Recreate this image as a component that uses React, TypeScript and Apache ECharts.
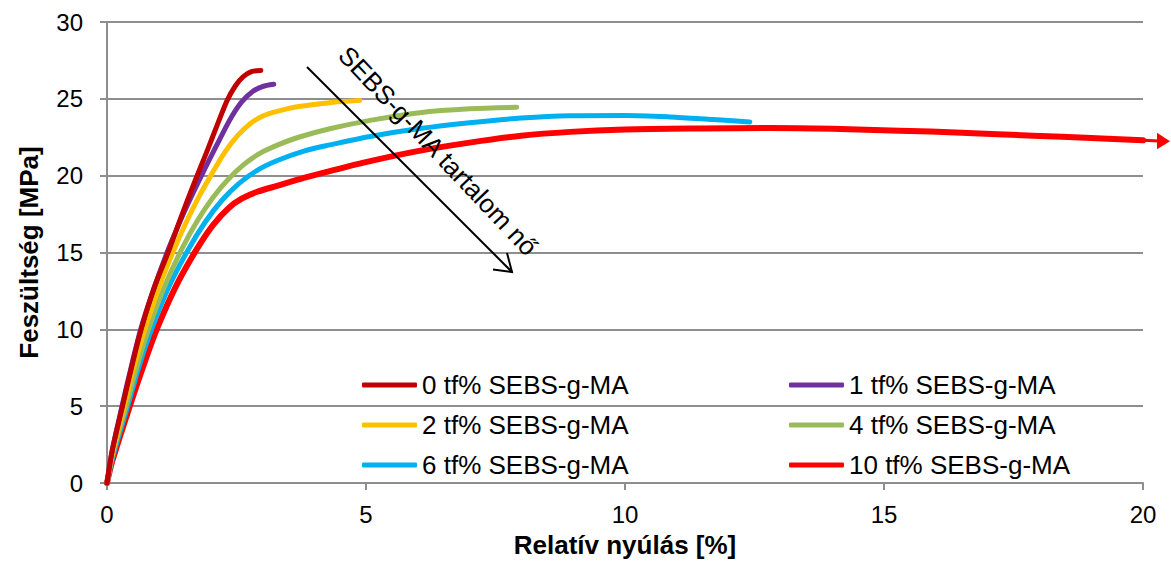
import React, { useEffect, useRef } from "react";
import * as echarts from "echarts";

const FONT = "'Liberation Sans', Arial, sans-serif";

const seriesNames = [
  "0 tf% SEBS-g-MA",
  "1 tf% SEBS-g-MA",
  "2 tf% SEBS-g-MA",
  "4 tf% SEBS-g-MA",
  "6 tf% SEBS-g-MA",
  "10 tf% SEBS-g-MA",
];
const seriesColors = ["#C00000", "#7030A0", "#FFC000", "#9BBB59", "#00B0F0", "#FF0000"];

const tf0: number[][] = [
  [0, 0], [0.1, 2.1], [0.3, 5.0], [0.48, 7.6], [0.66, 10.0], [0.91, 12.7], [1.18, 15.0],
  [1.43, 17.3], [1.68, 19.5], [1.92, 21.5], [2.14, 23.4], [2.32, 24.9], [2.48, 25.85],
  [2.63, 26.45], [2.8, 26.78], [2.97, 26.85],
];
const tf1: number[][] = [
  [0, 0], [0.1, 2.1], [0.29, 5.0], [0.47, 7.6], [0.65, 10.0], [0.9, 12.6], [1.16, 15.0],
  [1.42, 17.1], [1.68, 19.0], [1.94, 20.8], [2.18, 22.4], [2.4, 23.8], [2.6, 24.8],
  [2.8, 25.45], [3.0, 25.8], [3.22, 25.95],
];
const tf2: number[][] = [
  [0, 0], [0.11, 2.0], [0.33, 5.0], [0.52, 7.6], [0.73, 10.0], [1.0, 12.7], [1.27, 15.0],
  [1.52, 16.9], [1.77, 18.6], [2.02, 20.1], [2.27, 21.5], [2.52, 22.6], [2.77, 23.4],
  [3.02, 23.9], [3.3, 24.2], [3.7, 24.5], [4.3, 24.75], [4.88, 24.9],
];
const tf4: number[][] = [
  [0, 0], [0.12, 2.0], [0.37, 5.0], [0.58, 7.6], [0.8, 10.0], [1.1, 12.7], [1.44, 15.2],
  [1.75, 17.1], [2.05, 18.6], [2.35, 19.8], [2.65, 20.75], [2.95, 21.45], [3.3, 22.0],
  [3.7, 22.5], [4.3, 23.05], [5.08, 23.6], [6.04, 24.1], [7.0, 24.35], [7.91, 24.45],
];
const tf6: number[][] = [
  [0, 0], [0.12, 1.8], [0.4, 5.0], [0.62, 7.6], [0.86, 10.0], [1.2, 12.8], [1.57, 15.2],
  [1.9, 17.0], [2.22, 18.4], [2.55, 19.5], [2.9, 20.35], [3.3, 21.0], [3.8, 21.6],
  [4.3, 22.0], [5.08, 22.55], [6.0, 23.05], [7.0, 23.45], [8.0, 23.75], [8.94, 23.9],
  [10.0, 23.92], [10.87, 23.82], [11.7, 23.65], [12.41, 23.5],
];
const tf10: number[][] = [
  [0, 0], [0.1, 1.4], [0.44, 5.0], [0.7, 7.6], [0.96, 10.0], [1.33, 12.8], [1.73, 15.2],
  [2.05, 16.8], [2.35, 17.9], [2.6, 18.5], [2.9, 18.95], [3.3, 19.35], [3.8, 19.85],
  [4.3, 20.3], [5.08, 20.95], [6.0, 21.6], [7.0, 22.15], [8.0, 22.6], [8.94, 22.85],
  [10.0, 23.0], [11.45, 23.07], [12.8, 23.1], [14.0, 23.05], [15.3, 22.93], [16.5, 22.8],
  [17.88, 22.6], [19.0, 22.45], [20.0, 22.3],
];
const seriesData = [tf0, tf1, tf2, tf4, tf6, tf10];

const xTicks = [0, 5, 10, 15, 20];
const yTicks = [0, 5, 10, 15, 20, 25, 30];

const annotationText = "SEBS-g-MA tartalom nő";

export default function App() {
  const ref = useRef<HTMLDivElement>(null);
  useEffect(() => {
    if (!ref.current) return;
    const chart = echarts.init(ref.current, null, { renderer: "svg" });
    const gray = "#8e8e8e";
    const series = seriesData.map((d, i) => {
      const last = i === seriesData.length - 1;
      return {
        name: seriesNames[i],
        type: "line",
        data: d,
        smooth: 0.3,
        symbol: "none",
        showSymbol: false,
        silent: true,
        z: 10 - i + 2,
        itemStyle: { color: seriesColors[i] },
        lineStyle: { color: seriesColors[i], width: last ? 6 : 5, cap: "round", join: "round" },
        emphasis: { disabled: true },
      };
    });
    const legendCommon = {
      orient: "vertical",
      itemWidth: 55,
      itemHeight: 5,
      itemGap: 14,
      padding: 0,
      icon: "roundRect",
      selectedMode: false,
      top: 372,
      textStyle: { fontSize: 26, lineHeight: 26, color: "#000", fontFamily: FONT },
    };
    const baseGraphic: any[] = [
      {
        type: "line",
        silent: true,
        z: 100,
        shape: { x1: 307, y1: 67, x2: 512, y2: 272 },
        style: { stroke: "#000", lineWidth: 2 },
      },
      {
        type: "polyline",
        silent: true,
        z: 100,
        shape: { points: [[493, 269.5], [512, 272], [507, 253]] },
        style: { stroke: "#000", lineWidth: 2, fill: null },
      },
      {
        type: "text",
        silent: true,
        z: 100,
        x: 438,
        y: 151,
        rotation: -0.815,
        style: {
          text: annotationText,
          x: 0,
          y: 0,
          align: "center",
          verticalAlign: "middle",
          fontSize: 26,
          fontFamily: FONT,
          fill: "#000",
        },
      },
    ];
    chart.setOption({
      animation: false,
      textStyle: { fontFamily: FONT },
      grid: {
        left: 107,
        right: 28,
        top: 22,
        bottom: 80,
        containLabel: false,
        outerBoundsMode: "none",
      },
      legend: [
        { ...legendCommon, left: 362, data: [seriesNames[0], seriesNames[2], seriesNames[4]] },
        { ...legendCommon, left: 789, data: [seriesNames[1], seriesNames[3], seriesNames[5]] },
      ],
      xAxis: {
        type: "value",
        min: xTicks[0],
        max: xTicks[xTicks.length - 1],
        interval: 5,
        name: "Relatív nyúlás [%]",
        nameLocation: "middle",
        nameGap: 49,
        nameTextStyle: { fontSize: 26, fontWeight: "bold", color: "#000", fontFamily: FONT },
        axisLine: { show: true, lineStyle: { color: gray, width: 2 } },
        axisTick: { show: true, length: 7, lineStyle: { color: gray, width: 2 } },
        axisLabel: { fontSize: 24, color: "#000", margin: 19, fontFamily: FONT },
        splitLine: { show: false },
      },
      yAxis: {
        type: "value",
        min: yTicks[0],
        max: yTicks[yTicks.length - 1],
        interval: 5,
        name: "Feszültség [MPa]",
        nameLocation: "middle",
        nameGap: 65,
        nameTextStyle: { fontSize: 26, fontWeight: "bold", color: "#000", fontFamily: FONT },
        axisLine: { show: true, lineStyle: { color: gray, width: 2 } },
        axisTick: { show: true, length: 7, lineStyle: { color: gray, width: 2 } },
        axisLabel: { fontSize: 24, color: "#000", margin: 24, fontFamily: FONT },
        splitLine: { show: true, lineStyle: { color: gray, width: 2 } },
      },
      graphic: baseGraphic,
      series,
    });
    // arrow tail of the 10 tf% curve, anchored to its last data point
    const lastPt = tf10[tf10.length - 1];
    const p = chart.convertToPixel({ gridIndex: 0 }, lastPt) as number[];
    if (p && isFinite(p[0])) {
      const c = seriesColors[5];
      chart.setOption({
        graphic: [
          ...baseGraphic,
          {
            type: "line",
            silent: true,
            z: 50,
            shape: { x1: p[0], y1: p[1], x2: p[0] + 16, y2: p[1] + 0.6 },
            style: { stroke: c, lineWidth: 3 },
          },
          {
            type: "polygon",
            silent: true,
            z: 50,
            shape: {
              points: [
                [p[0] + 14, p[1] - 7.5],
                [p[0] + 27, p[1] + 1],
                [p[0] + 14, p[1] + 9],
              ],
            },
            style: { fill: c },
          },
        ],
      });
    }
    return () => chart.dispose();
  }, []);
  return (
    <div
      ref={ref}
      style={{ position: "fixed", left: 0, top: 0, width: 1171, height: 563, background: "#fff" }}
    />
  );
}
